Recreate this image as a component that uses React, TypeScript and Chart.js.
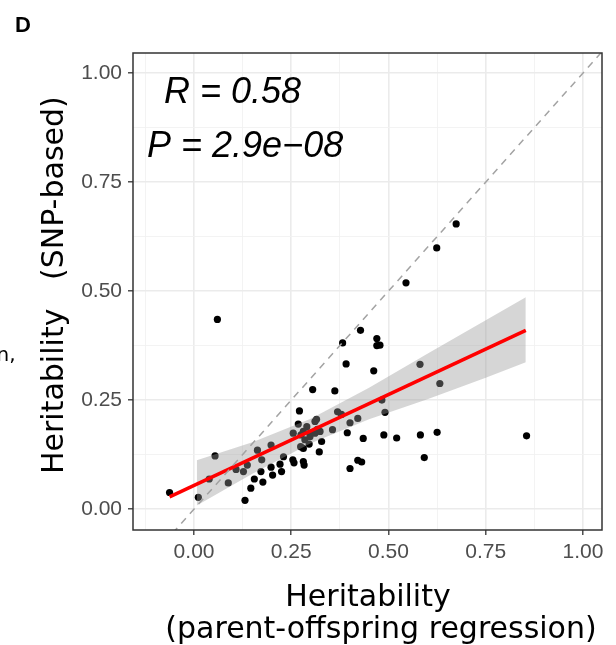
import React, { useEffect, useRef } from 'react';
import { Chart, registerables } from 'chart.js';
Chart.register(...registerables);

// Heritability (parent-offspring regression) vs Heritability (SNP-based)
const poHerit = [
  -0.063, 0.011, 0.054, 0.039, 0.088, 0.131, 0.146, 0.155, 0.108, 0.127,
  0.137, 0.163, 0.172, 0.174, 0.198, 0.198, 0.221, 0.230, 0.254, 0.257,
  0.281, 0.283, 0.225, 0.202, 0.177, 0.268, 0.290, 0.311, 0.317, 0.255,
  0.275, 0.298, 0.274, 0.296, 0.271, 0.305, 0.362, 0.369, 0.379, 0.315,
  0.281, 0.311, 0.324, 0.328, 0.285, 0.356, 0.401, 0.421, 0.394, 0.435,
  0.491, 0.488, 0.281, 0.322, 0.401, 0.421, 0.431, 0.483, 0.521, 0.582,
  0.625, 0.855, 0.592, 0.581, 0.632, 0.462, 0.391, 0.382, 0.470, 0.470,
  0.428, 0.060, 0.545, 0.624, 0.674, 0.478, 0.298,
];
const snpHerit = [
  0.038, 0.027, 0.122, 0.069, 0.060, 0.020, 0.048, 0.069, 0.091, 0.086,
  0.101, 0.135, 0.086, 0.113, 0.147, 0.096, 0.103, 0.120, 0.113, 0.106,
  0.109, 0.101, 0.086, 0.078, 0.062, 0.195, 0.189, 0.201, 0.183, 0.174,
  0.170, 0.166, 0.143, 0.149, 0.225, 0.274, 0.271, 0.223, 0.217, 0.206,
  0.178, 0.174, 0.178, 0.155, 0.159, 0.182, 0.198, 0.208, 0.175, 0.162,
  0.222, 0.170, 0.139, 0.131, 0.093, 0.112, 0.108, 0.250, 0.163, 0.170,
  0.176, 0.168, 0.118, 0.332, 0.288, 0.317, 0.333, 0.381, 0.391, 0.375,
  0.410, 0.435, 0.519, 0.599, 0.654, 0.376, 0.174,
];

// linear fit and its confidence band
const fitX = [-0.063, 0.853];
const fitY = [0.028, 0.410];
const bandX = [0.007, 0.15, 0.3, 0.45, 0.6, 0.75, 0.853];
const bandLow = [0.008, 0.081, 0.151, 0.206, 0.252, 0.301, 0.337];
const bandHigh = [0.112, 0.153, 0.207, 0.278, 0.356, 0.433, 0.486];

// identity line
const idX = [-0.3, 1.2];

const xTickValues = [-0.125, 0, 0.125, 0.25, 0.375, 0.5, 0.625, 0.75, 0.875, 1.0];
const yTickValues = [0, 0.125, 0.25, 0.375, 0.5, 0.625, 0.75, 0.875, 1.0];

const corLabel = 'R = 0.58';
const pLabel = 'P = 2.9e\u221208';
const panelLabel = 'D';
const xTitle = ['Heritability', '(parent-offspring regression)'];
const yTitle = 'Heritability   (SNP-based)';

const isMajor = (v: number) => Math.abs(v * 4 - Math.round(v * 4)) < 1e-6;
const TICK_FONT = "'Liberation Sans', Arial, sans-serif";
const TITLE_FONT = "'DejaVu Sans', Verdana, sans-serif";

const textPlugin = {
  id: 'textPlugin',
  afterDatasetsDraw(chart: any) {
    const { ctx, chartArea } = chart;
    ctx.save();
    ctx.strokeStyle = '#333333';
    ctx.lineWidth = 1.5;
    ctx.strokeRect(chartArea.left, chartArea.top, chartArea.right - chartArea.left, chartArea.bottom - chartArea.top);
    ctx.restore();
  },
  afterDraw(chart: any) {
    const { ctx } = chart;
    ctx.save();
    ctx.fillStyle = '#000000';
    ctx.textBaseline = 'alphabetic';
    // panel letter
    ctx.font = `bold 22px ${TICK_FONT}`;
    ctx.textAlign = 'left';
    ctx.fillText(panelLabel, 15, 32);
    // cut-off neighbour text
    ctx.font = `20px ${TITLE_FONT}`;
    ctx.fillText('n,', -3.5, 361);
    // correlation labels
    ctx.font = `italic 36px ${TICK_FONT}`;
    ctx.fillText(corLabel, 164, 103);
    ctx.fillText(pLabel, 147, 157);
    // x title
    ctx.font = `30px ${TITLE_FONT}`;
    ctx.textAlign = 'center';
    ctx.fillText(xTitle[0], 368, 606);
    ctx.fillText(xTitle[1], 381, 638);
    // y title
    ctx.textAlign = 'left';
    ctx.translate(63, 474);
    ctx.rotate(-Math.PI / 2);
    ctx.fillText(yTitle, 0, 0);
    ctx.restore();
  },
};

function makeScale(min: number, max: number, values: number[], isX: boolean) {
  return {
    type: 'linear',
    min,
    max,
    afterBuildTicks: (scale: any) => {
      scale.ticks = values.map((v) => ({ value: v }));
    },
    afterFit: (scale: any) => {
      if (isX) scale.height = 115;
      else scale.width = 133;
    },
    border: { display: false },
    grid: {
      drawTicks: true,
      tickLength: 5,
      color: (c: any) => (c.tick && isMajor(c.tick.value) ? '#EBEBEB' : '#F2F2F2'),
      lineWidth: (c: any) => (c.tick && isMajor(c.tick.value) ? 1.6 : 0.9),
      tickColor: (c: any) => (c.tick && isMajor(c.tick.value) ? '#333333' : 'rgba(0,0,0,0)'),
      tickWidth: 1.3,
    },
    ticks: {
      autoSkip: false,
      maxRotation: 0,
      minRotation: 0,
      padding: isX ? 5 : 6,
      color: '#4D4D4D',
      font: { family: TICK_FONT, size: 21 },
      callback: (v: any) => (isMajor(Number(v)) ? Number(v).toFixed(2) : ''),
    },
  };
}

export default function App() {
  const ref = useRef<HTMLCanvasElement | null>(null);
  useEffect(() => {
    if (!ref.current) return;
    const points = poHerit.map((x, i) => ({ x, y: snpHerit[i] }));
    const chart = new Chart(ref.current, {
      type: 'scatter',
      data: {
        datasets: [
          {
            label: 'identity',
            data: idX.map((v) => ({ x: v, y: v })),
            showLine: true,
            borderColor: '#A3A3A3',
            borderWidth: 1.5,
            borderDash: [7, 6],
            pointRadius: 0,
            clip: 0,
            order: 0,
          } as any,
          {
            label: 'fit',
            data: fitX.map((x, i) => ({ x, y: fitY[i] })),
            showLine: true,
            borderColor: '#FF0000',
            borderWidth: 3.5,
            pointRadius: 0,
            order: 1,
          },
          {
            label: 'bandHigh',
            data: bandX.map((x, i) => ({ x, y: bandHigh[i] })),
            showLine: true,
            borderWidth: 0,
            borderColor: 'rgba(0,0,0,0)',
            backgroundColor: 'rgba(153,153,153,0.4)',
            fill: '+1',
            pointRadius: 0,
            order: 2,
          },
          {
            label: 'bandLow',
            data: bandX.map((x, i) => ({ x, y: bandLow[i] })),
            showLine: true,
            borderWidth: 0,
            borderColor: 'rgba(0,0,0,0)',
            fill: false,
            pointRadius: 0,
            order: 3,
          },
          {
            label: 'points',
            data: points,
            pointRadius: 3.6,
            pointBorderWidth: 0,
            pointBackgroundColor: '#000000',
            backgroundColor: '#000000',
            order: 4,
          },
        ],
      },
      options: {
        responsive: false,
        animation: false,
        devicePixelRatio: 1,
        layout: { padding: { left: 0, right: 14, top: 53, bottom: 0 } },
        plugins: { legend: { display: false }, tooltip: { enabled: false } },
        scales: {
          x: makeScale(-0.157, 1.049, xTickValues, true) as any,
          y: makeScale(-0.048, 1.046, yTickValues, false) as any,
        },
      },
      plugins: [textPlugin],
    });
    return () => chart.destroy();
  }, []);
  return (
    <div style={{ position: 'absolute', left: 0, top: 0, width: 616, height: 645, background: '#fff' }}>
      <canvas ref={ref} width={616} height={645} style={{ display: 'block' }} />
    </div>
  );
}
